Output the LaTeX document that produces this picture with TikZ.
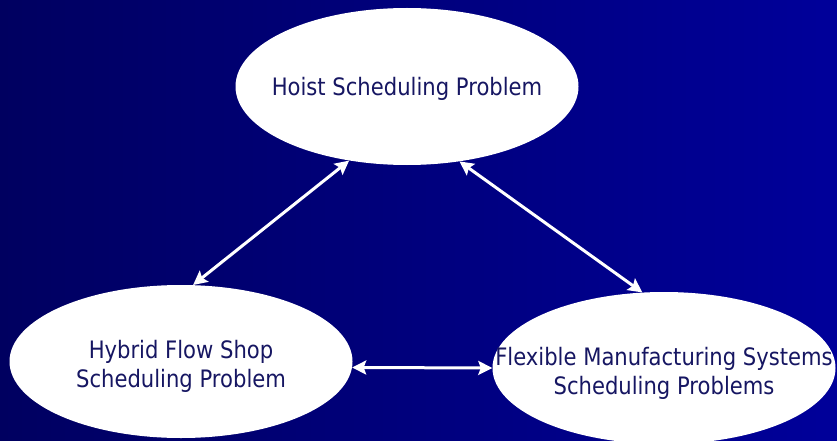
\documentclass[tikz,border=0pt]{standalone}
\usepackage{fontspec}
\setmainfont{DejaVu Sans}[FakeStretch=0.88]
\usetikzlibrary{shapes.geometric,arrows.meta}

\definecolor{slideLeft}{RGB}{0,0,96}
\definecolor{slideRight}{RGB}{0,0,154}
\definecolor{problemText}{RGB}{22,22,98}

% one line of text inside an ellipse, taking no room, lowered a little
\newcommand{\probline}[2][10pt]{\raisebox{-#1}[0pt][0pt]{\makebox[0pt]{#2}}}

\tikzset{
    problem/.style={ellipse, fill=white, inner sep=0pt, minimum width=343pt,
        align=center, text=problemText, font=\fontsize{24}{29}\selectfont},
    relation/.style={white, line width=3pt,
        {Stealth[length=14pt,width=14pt,inset=2.5pt]}-{Stealth[length=14pt,width=14pt,inset=2.5pt]}}
}

\begin{document}
\begin{tikzpicture}[x=1pt,y=1pt]

    % slide background
    \clip (0,0) rectangle (837,440);
    \shade[left color=slideLeft, right color=slideRight] (0,0) rectangle (837,440);

    % the three problems
    \node[problem, minimum height=157pt] (hoist) at (407,353.5) {\probline[9.5pt]{Hoist Scheduling Problem}};
    \node[problem, minimum height=153pt] (hfs) at (181,78.5) {\probline[11pt]{Hybrid Flow Shop}\\\probline[11pt]{Scheduling Problem}};
    \node[problem, minimum height=152pt] (fms) at (664,72) {\probline[11.5pt]{Flexible Manufacturing Systems}\\\probline[11.5pt]{Scheduling Problems}};

    \draw[relation] (hoist.232) -- (hfs.81);
    \draw[relation] (hoist.305) -- (fms.106);
    \draw[relation] (hfs.-2) -- (fms.180);
\end{tikzpicture}
\end{document}
